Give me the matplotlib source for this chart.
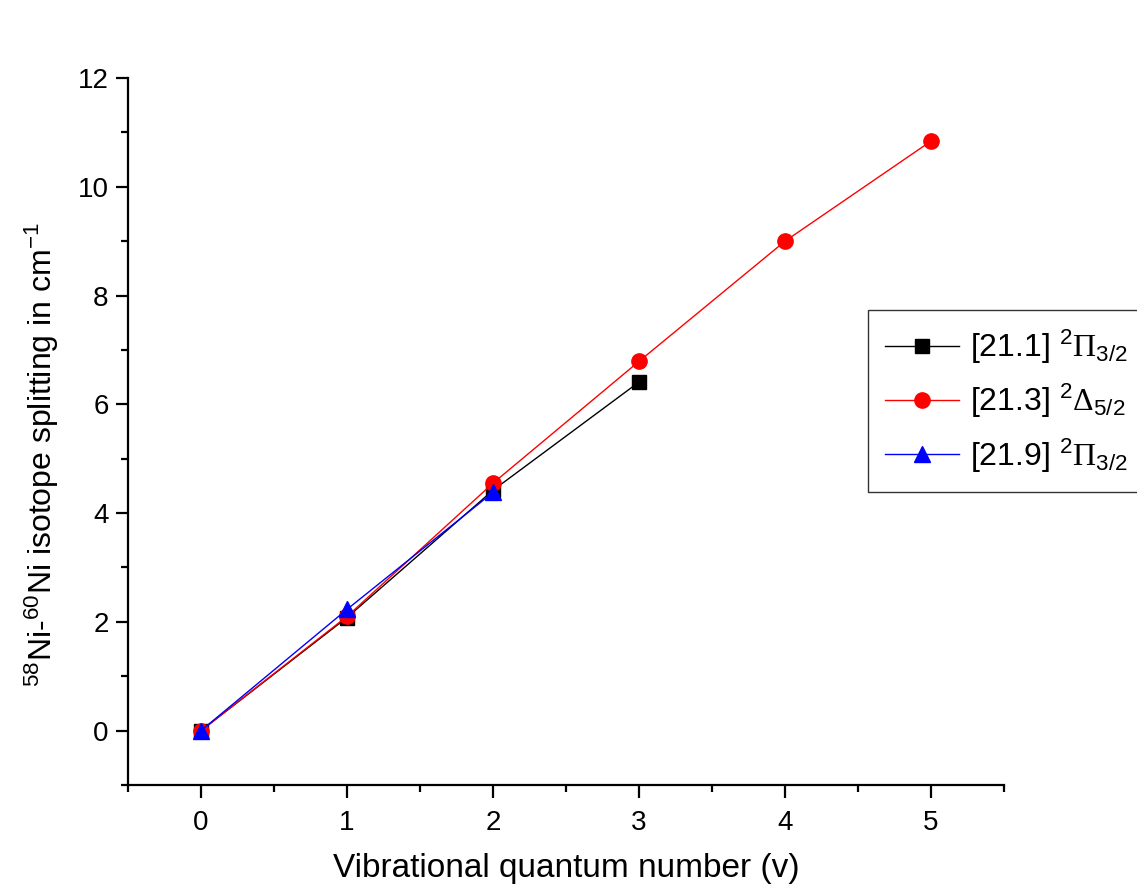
import matplotlib
matplotlib.use("Agg")
import matplotlib.pyplot as plt
from matplotlib.ticker import MultipleLocator

plt.rcParams['font.family'] = ['Liberation Sans', 'DejaVu Sans']
plt.rcParams['mathtext.fontset'] = 'custom'
plt.rcParams['mathtext.rm'] = 'Liberation Serif'
plt.rcParams['mathtext.sf'] = 'Liberation Sans'
plt.rcParams['mathtext.it'] = 'Liberation Sans:italic'

x_black = [0, 1, 2, 3]
y_black = [0.0, 2.08, 4.42, 6.41]
x_red = [0, 1, 2, 3, 4, 5]
y_red = [0.0, 2.1, 4.55, 6.79, 9.0, 10.84]
x_blue = [0, 1, 2]
y_blue = [0.0, 2.23, 4.38]

labels = [r"[21.1] $^{\mathsf{2}}\Pi_{\mathsf{3/2}}$",
          r"[21.3] $^{\mathsf{2}}\Delta_{\mathsf{5/2}}$",
          r"[21.9] $^{\mathsf{2}}\Pi_{\mathsf{3/2}}$"]

fig = plt.figure(figsize=(11.37, 8.94), dpi=100)
ax = fig.add_axes([0.1126, 0.1219, 0.7704, 0.7908])

l1, = ax.plot(x_black, y_black, color='black', lw=1.0, marker='s', ms=10, label=labels[0])
l2, = ax.plot(x_red, y_red, color='red', lw=1.0, marker='o', ms=11, label=labels[1])
l3, = ax.plot(x_blue, y_blue, color='blue', lw=1.0, marker='^', ms=12, label=labels[2])

ax.set_xlim(-0.5, 5.5)
ax.set_ylim(-1, 12)
ax.xaxis.set_major_locator(MultipleLocator(1))
ax.xaxis.set_minor_locator(MultipleLocator(0.5))
ax.yaxis.set_major_locator(MultipleLocator(2))
ax.yaxis.set_minor_locator(MultipleLocator(1))
ax.spines['top'].set_visible(False)
ax.spines['right'].set_visible(False)
for s in ('left', 'bottom'):
    ax.spines[s].set_linewidth(1.6)
ax.tick_params(which='major', direction='out', length=9, width=1.6, labelsize=20)
ax.tick_params(axis='x', which='major', pad=9)
ax.tick_params(axis='y', which='major', pad=5)
ax.tick_params(which='minor', direction='out', length=5, width=1.6)

ax.set_xlabel("Vibrational quantum number (v)", fontsize=24, labelpad=12)
ax.set_ylabel(r"$^{\mathsf{58}}$Ni-$^{\mathsf{60}}$Ni isotope splitting in cm$^{\mathsf{-1}}$", fontsize=23, labelpad=12)
ax.yaxis.label.set_y(0.467)

leg = fig.legend(handles=[l1, l2, l3], loc='upper left', bbox_to_anchor=(0.763, 0.653),
                 fontsize=23, frameon=True, fancybox=False, edgecolor='black',
                 handlelength=2.3, borderpad=0.55, labelspacing=0.5, handletextpad=0.35,
                 borderaxespad=0)
leg.get_frame().set_linewidth(1.0)

fig.savefig("out.png", dpi=100)
